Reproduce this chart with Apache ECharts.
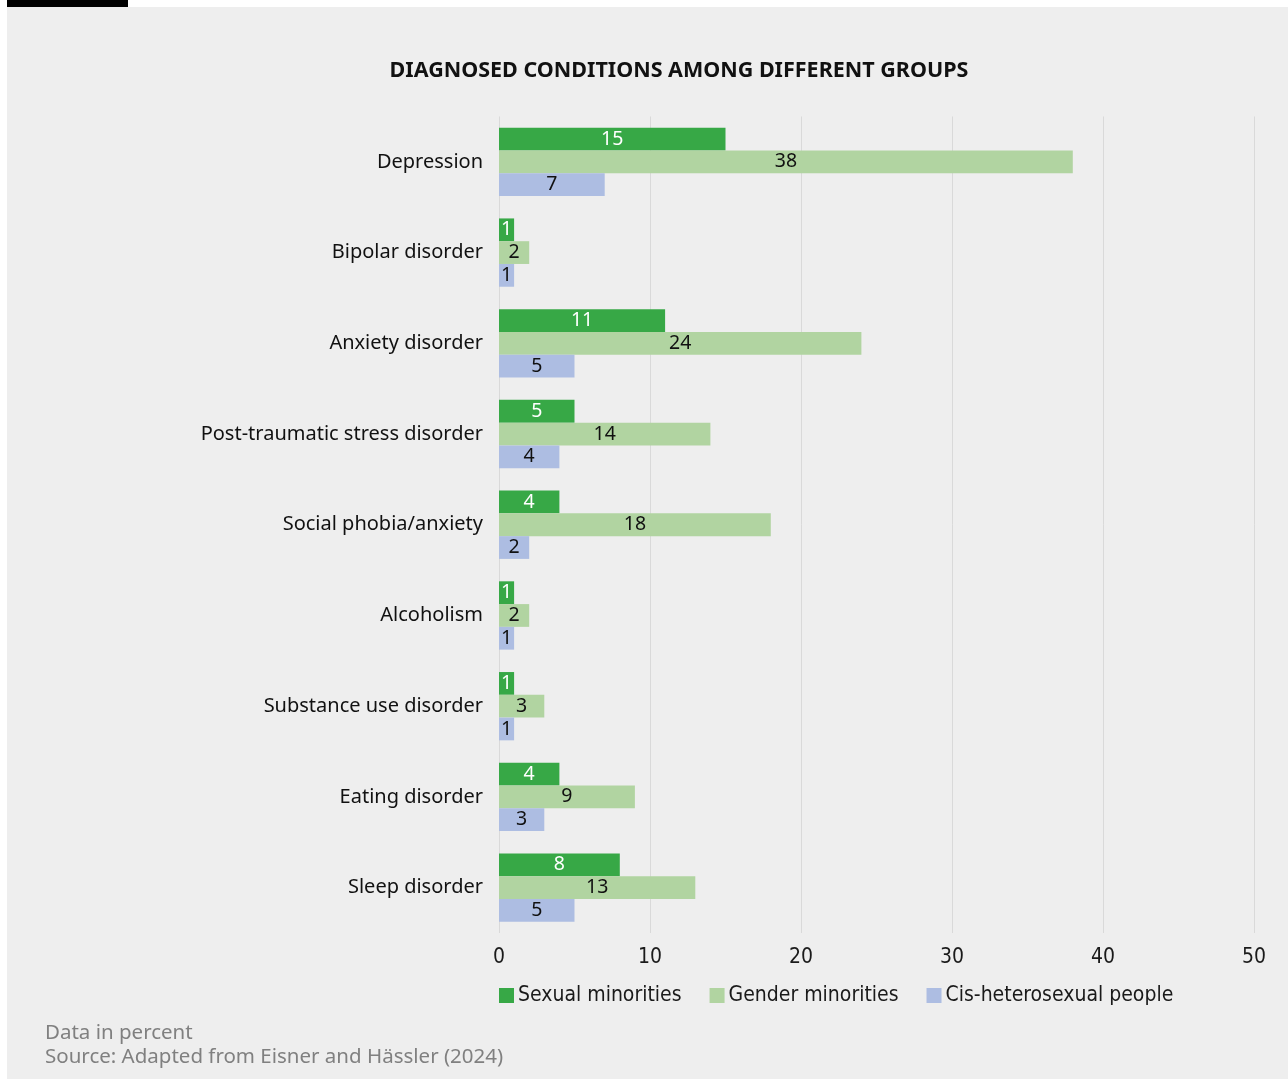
<!DOCTYPE html>
<html>
<head>
<meta charset="utf-8">
<title>Diagnosed conditions among different groups</title>
<script src="https://cdn.jsdelivr.net/npm/echarts@6/dist/echarts.min.js"></script>
<style>
  html, body { margin: 0; padding: 0; background: #ffffff; }
  #chart { width: 1288px; height: 1079px; }
</style>
</head>
<body>
<div id="chart"></div>
<script>
// Conditions, listed top to bottom
const conditions = [
  'Depression',
  'Bipolar disorder',
  'Anxiety disorder',
  'Post-traumatic stress disorder',
  'Social phobia/anxiety',
  'Alcoholism',
  'Substance use disorder',
  'Eating disorder',
  'Sleep disorder'
];

// Share diagnosed, in percent
const sexualMinorities = [15, 1, 11, 5, 4, 1, 1, 4, 8];
const genderMinorities = [38, 2, 24, 14, 18, 2, 3, 9, 13];
const cisHeterosexual = [7, 1, 5, 4, 2, 1, 1, 3, 5];

const groupNames = ['Sexual minorities', 'Gender minorities', 'Cis-heterosexual people'];
const xTicks = [0, 10, 20, 30, 40, 50];

const chartTitle = 'DIAGNOSED CONDITIONS AMONG DIFFERENT GROUPS';
const noteLines = ['Data in percent', 'Source: Adapted from Eisner and Hässler (2024)'];

const bodyFont = '"Noto Sans", "Open Sans", sans-serif';
const narrowFont = '"Liberation Sans Narrow", "DejaVu Sans Condensed", Roboto, sans-serif';

const chart = echarts.init(document.getElementById('chart'), null, { renderer: 'canvas' });

function barSeries(name, data, color, labelColor) {
  return {
    name: name,
    type: 'bar',
    data: data,
    barGap: '0%',
    barCategoryGap: '24.7%',
    itemStyle: { color: color },
    label: {
      show: true,
      position: 'inside',
      color: labelColor,
      fontFamily: bodyFont,
      fontSize: 19.5
    },
    emphasis: { disabled: true }
  };
}

function noteText(text, y) {
  return {
    type: 'text', x: 45, y: y,
    style: {
      text: text, fill: '#808080', verticalAlign: 'middle',
      fontFamily: bodyFont, fontSize: 20.5
    }
  };
}

chart.setOption({
  animation: false,
  backgroundColor: '#ffffff',
  graphic: [
    { type: 'rect', z: -10, shape: { x: 7, y: 7, width: 1281, height: 1072 }, style: { fill: '#eeeeee' } },
    { type: 'rect', z: -10, shape: { x: 7, y: 0, width: 121, height: 7 }, style: { fill: '#000000' } },
    {
      type: 'text', x: 679, y: 71,
      style: {
        text: chartTitle, fill: '#111111', align: 'center', verticalAlign: 'middle',
        fontFamily: bodyFont, fontSize: 21.5, fontWeight: 700
      }
    },
    noteText(noteLines[0], 1033),
    noteText(noteLines[1], 1057)
  ],
  legend: {
    data: groupNames,
    left: 494,
    top: 980,
    icon: 'rect',
    itemWidth: 15,
    itemHeight: 15,
    itemGap: 28,
    textStyle: { color: '#1a1a1a', fontFamily: narrowFont, fontSize: 21, padding: [0, 0, 0, -1] },
    selectedMode: false
  },
  grid: { left: 499, right: 34, top: 116.5, bottom: 146, containLabel: false },
  xAxis: {
    type: 'value',
    min: xTicks[0],
    max: xTicks[xTicks.length - 1],
    interval: 10,
    axisLine: { show: false },
    axisTick: { show: false },
    axisLabel: { color: '#1a1a1a', fontFamily: narrowFont, fontSize: 21, margin: 14 },
    splitLine: { show: true, lineStyle: { color: '#d9d9d9', width: 1 } }
  },
  yAxis: {
    type: 'category',
    data: conditions,
    inverse: true,
    axisLine: { show: false },
    axisTick: { show: false },
    axisLabel: { color: '#111111', fontFamily: bodyFont, fontSize: 20, margin: 16, padding: [3, 0, 0, 0] }
  },
  series: [
    barSeries(groupNames[0], sexualMinorities, '#37a846', '#ffffff'),
    barSeries(groupNames[1], genderMinorities, '#b1d4a1', '#111111'),
    barSeries(groupNames[2], cisHeterosexual, '#adbde2', '#111111')
  ]
});
</script>
</body>
</html>
